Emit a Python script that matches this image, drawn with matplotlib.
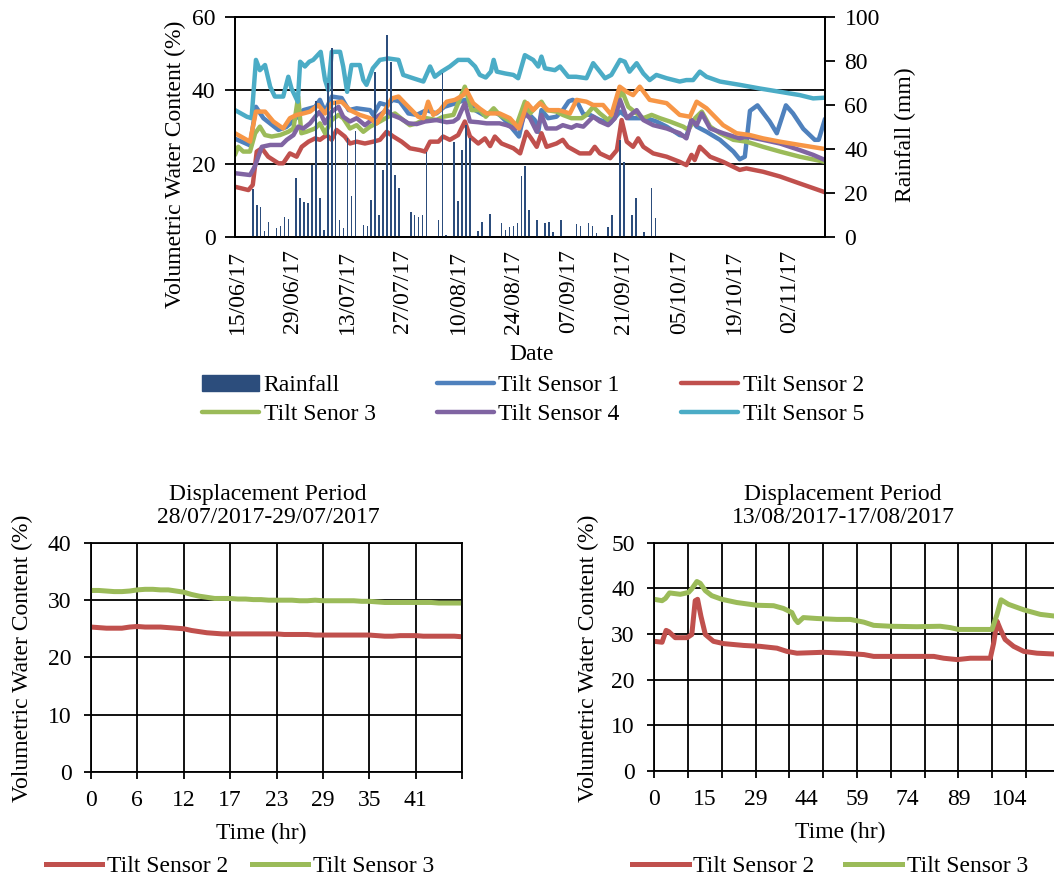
import numpy as np
import matplotlib
matplotlib.use('Agg')
import matplotlib.pyplot as plt
import matplotlib.dates as mdates
from matplotlib.lines import Line2D
from matplotlib.patches import Patch

plt.rcParams['font.family'] = ['Liberation Serif', 'DejaVu Serif']
plt.rcParams['font.size'] = 17

COL = {'rain': '#2C4D7C', 's1': '#4F81BD', 's2': '#C0504D', 's3': '#9BBB59',
       's4': '#8064A2', 's5': '#4BACC6', 's6': '#F79646'}

# ---- top chart: daily VWC per tilt sensor (day offset from 15/06/17, %) ----
s1 = [(0, 26.8), (3.8, 25.0), (5.3, 35.5), (7.2, 32.4), (11, 29.2), (13, 30.0), (15, 31.9),
      (17.3, 34.6), (20.3, 35.5), (21.5, 37.4), (22.8, 34.2), (24.5, 38.3), (27, 37.9),
      (28.8, 34.6), (30.8, 35.1), (34.2, 34.6), (35, 33.3), (36.7, 36.5), (38.4, 36.0),
      (40, 37.4), (41.7, 37.0), (43.9, 33.7), (46, 33.3), (48.5, 34.6), (51, 33.7),
      (53, 35.5), (55.9, 36.5), (58.2, 37.4), (60.8, 34.6), (62.9, 33.3), (65.5, 34.2),
      (67, 33.3), (68.7, 31.5), (70.9, 28.7), (71.9, 27.4), (73.4, 34.6), (75.9, 31.9),
      (76.8, 28.7), (77.6, 34.6), (79.3, 32.4), (81.4, 32.8), (83, 34.6), (84.5, 37.0),
      (85.5, 37.4), (86.8, 36.5), (88.2, 33.5), (89.9, 33.3), (92.4, 31.9), (95, 31.0),
      (97.5, 34.2), (99.6, 32.4), (101.7, 32.4), (104.2, 32.4), (106.7, 31.5), (109.3, 30.1),
      (112.6, 27.8), (114.3, 27.4), (115.6, 31.9), (116.9, 30.1), (119.4, 28.7), (122.8, 26.5),
      (126.2, 23.3), (127.8, 21.2), (129.1, 21.9), (130.4, 34.4), (132.3, 35.9), (135.4, 31.5),
      (137.2, 28.3), (139.5, 35.9), (141.3, 33.7), (143.9, 29.5), (146.8, 26.5), (147.8, 26.5),
      (149.4, 32.2)]
s2 = [(0, 13.7), (3.4, 12.8), (4.5, 14.2), (5.5, 23.3), (6.8, 24.2), (8.4, 21.9), (11, 20.1),
      (12.2, 20.1), (13.9, 22.8), (15.6, 21.9), (16.9, 24.6), (18.6, 26.0), (20.3, 26.9),
      (21.5, 26.5), (23.2, 27.8), (24.5, 26.5), (25.7, 29.2), (27.8, 27.4), (29.1, 25.5),
      (30.8, 26.0), (32.9, 25.5), (35, 26.0), (36.7, 26.5), (38.4, 28.7), (40.1, 27.4),
      (42.2, 26.0), (44.3, 24.2), (46.8, 23.7), (48.1, 23.3), (49.4, 26.0), (51.5, 26.0),
      (52.7, 27.4), (54.4, 26.5), (56.5, 27.8), (58.2, 31.5), (59.5, 27.4), (61.6, 25.5),
      (63.3, 26.9), (64.6, 24.8), (65.8, 27.4), (67.5, 25.5), (70.5, 24.2), (72.2, 22.8),
      (73.8, 28.7), (75, 26.9), (76.4, 24.6), (77.6, 28.3), (78.9, 24.6), (81.4, 25.5),
      (83, 26.5), (84.3, 24.6), (87.3, 22.8), (89.9, 22.8), (91.1, 24.6), (92.4, 22.8),
      (95, 21.5), (96.7, 23.7), (97.9, 31.9), (99.2, 26.0), (100.8, 24.6), (102.1, 26.9),
      (103.4, 24.6), (105.9, 22.8), (109.3, 21.9), (112.6, 20.5), (114.3, 19.6), (115.6, 22.4),
      (116.4, 21.0), (117.7, 24.6), (120.3, 21.9), (123.6, 20.5), (127.8, 18.3), (129.5, 18.7),
      (133.7, 17.8), (138, 16.5), (143, 14.6), (149.4, 12.2)]
s3 = [(0, 22.4), (0.8, 24.6), (2.1, 23.3), (3.8, 23.3), (5.1, 28.3), (6.3, 30.1), (7.6, 27.8),
      (9.3, 27.4), (11.4, 27.8), (13.5, 28.7), (14.8, 29.6), (16, 38.3), (16.8, 28.3),
      (18.1, 28.7), (20.3, 29.6), (21.5, 31.0), (22.8, 28.3), (24.5, 31.9), (26.2, 33.3),
      (27.4, 32.4), (29.1, 29.6), (30.8, 30.5), (32.5, 28.7), (34.2, 30.1), (36.7, 31.5),
      (38.8, 32.8), (40.5, 33.7), (42.6, 31.9), (44.3, 30.5), (46, 31.0), (48.5, 32.4),
      (51, 31.9), (52.7, 32.8), (55.3, 33.3), (58.2, 41.0), (59.9, 34.6), (62, 34.6),
      (63.5, 32.8), (65.5, 35.1), (67, 33.3), (69.2, 31.9), (71.3, 30.5), (73.4, 36.9),
      (74.7, 33.7), (77.6, 36.9), (78.9, 34.6), (81.4, 34.2), (83, 33.3), (85.2, 32.4),
      (87.8, 32.4), (89, 33.3), (90.7, 35.5), (92.4, 33.7), (94.5, 31.9), (96.2, 34.2),
      (97.9, 40.1), (99.6, 35.5), (101.7, 33.7), (103.4, 32.4), (105.5, 33.3), (107.6, 32.4),
      (110.1, 31.5), (113.5, 30.1), (114.8, 29.2), (116.5, 32.4), (118.2, 34.2), (120.3, 30.1),
      (122.8, 28.3), (126.2, 26.5), (129.5, 26.0), (133.7, 24.6), (138, 23.3), (143, 21.9),
      (149.4, 20.5)]
s4 = [(0, 17.4), (3.8, 16.9), (5, 19.2), (6.8, 24.6), (8.9, 25.1), (11.8, 25.1), (13.1, 26.5),
      (14.8, 27.8), (16, 30.1), (17.3, 29.6), (19, 31.0), (20.7, 33.3), (21.5, 34.2), (22.8, 31.0),
      (24.5, 34.2), (26.2, 35.5), (27.4, 32.8), (29.1, 31.5), (30.8, 32.4), (32.9, 30.5),
      (34.6, 31.9), (36.7, 33.3), (38.4, 34.6), (39.7, 33.3), (41.8, 32.4), (43.9, 31.0),
      (46, 30.8), (48.1, 31.5), (51, 31.9), (53.6, 31.3), (55.3, 31.5), (56.5, 32.4),
      (58.2, 36.5), (59.5, 31.5), (61.6, 31.3), (63.7, 31.0), (67, 31.0), (68.8, 30.5),
      (70.9, 29.6), (72.1, 29.7), (73.4, 33.7), (74.7, 32.4), (76.4, 28.7), (77.6, 33.3),
      (78.9, 29.6), (81.4, 29.6), (83, 30.5), (85.2, 29.8), (86.5, 30.5), (88.2, 30.1),
      (90.7, 32.8), (92.4, 31.5), (94.5, 30.5), (96.2, 32.4), (97.5, 37.4), (99.2, 32.4),
      (101.7, 34.6), (103.4, 31.9), (105.9, 30.5), (109.3, 29.6), (112.6, 28.3), (114.3, 26.9),
      (115.6, 31.9), (116.9, 30.5), (118.2, 33.7), (120.3, 29.6), (123.6, 28.3), (127.8, 26.9),
      (129.5, 27.4), (133.7, 26.5), (138, 25.5), (143, 23.7), (146.4, 22.4), (149.4, 21.0)]
s5 = [(0, 34.6), (3, 32.8), (4.2, 32.4), (5.3, 48.3), (6.3, 45.5), (7.6, 46.9), (8.9, 41.0),
      (10.1, 38.3), (12.2, 38.3), (13.5, 43.7), (14.3, 40.5), (15.9, 36.9), (16.5, 47.8),
      (17.7, 46.5), (18.8, 47.8), (19.8, 48.3), (21.7, 50.5), (22.8, 42.8), (23.6, 40.1),
      (24.5, 50.5), (26.6, 50.5), (27.4, 46.5), (28.4, 39.6), (29.5, 46.9), (31.6, 46.9),
      (32.5, 42.8), (33.3, 41.5), (34.9, 46.0), (36.7, 48.3), (38.8, 48.7), (41.4, 48.3),
      (42.6, 44.2), (45.1, 43.3), (47.7, 42.4), (49.4, 46.5), (50.6, 43.7), (52.3, 45.1),
      (54.4, 46.5), (56.5, 48.3), (59.1, 48.3), (60.8, 46.5), (62, 44.2), (63.5, 43.5),
      (64.8, 45.1), (65.5, 48.3), (66.3, 45.1), (68.4, 44.6), (70.5, 44.2), (71.7, 43.3),
      (73.4, 49.6), (75.5, 48.3), (76.8, 46.5), (77.6, 49.2), (78.5, 46.0), (81, 45.5),
      (82.3, 46.5), (84.4, 43.7), (86.4, 43.7), (89, 43.3), (90.7, 47.4), (92.4, 45.1),
      (93.7, 43.3), (95.3, 44.2), (97.5, 48.3), (98.7, 47.8), (99.9, 45.1), (101.7, 47.4),
      (103.4, 44.6), (105, 42.8), (106.7, 44.2), (109.3, 43.3), (112.6, 42.4), (114.3, 42.8),
      (116, 42.8), (117.7, 45.1), (119.4, 43.7), (122.8, 42.4), (127.8, 41.5), (132.9, 40.5),
      (138, 39.6), (143, 38.7), (146.4, 37.8), (149.4, 38.0)]
s6 = [(0, 28.3), (3.8, 26.0), (5.3, 34.2), (7.6, 34.2), (9.7, 31.5), (12.2, 29.6), (13.9, 32.4),
      (15.6, 33.3), (17.3, 33.7), (19, 34.2), (21.1, 36.0), (22.8, 33.7), (24.5, 36.5), (27, 36.9),
      (29.1, 34.6), (31.6, 33.3), (34.2, 32.4), (35.9, 31.0), (38, 34.6), (39.7, 37.8),
      (41.4, 38.3), (43, 36.5), (45.1, 34.2), (46.4, 32.8), (47.7, 32.4), (48.9, 36.9),
      (50.2, 33.3), (51.9, 34.6), (53.6, 36.9), (55.7, 37.4), (57.8, 38.7), (58.6, 40.1),
      (60.3, 36.5), (62, 35.0), (63.7, 33.7), (67, 33.7), (69.6, 32.4), (71.9, 29.6), (74, 36.5),
      (75.5, 34.6), (77.2, 36.5), (79.3, 34.6), (82, 34.6), (84.8, 33.7), (86.5, 37.4), (89, 36.9),
      (90.7, 36.0), (93.2, 36.0), (95.3, 33.3), (97.4, 41.0), (99.2, 39.6), (100.8, 38.7),
      (102.5, 41.0), (105, 37.4), (109.3, 36.5), (112.6, 33.3), (115.2, 32.8), (116.9, 36.9),
      (119.4, 35.1), (123.6, 30.5), (127, 28.3), (130.4, 27.8), (133.7, 26.9), (138, 26.0),
      (143, 25.1), (149.4, 24.0)]

# daily rainfall (day offset, mm)
rain = [(4, 22), (5, 14.5), (6, 13.8), (7, 2.7), (8, 7), (10, 4.2), (11, 5.2), (12, 9.2),
        (13, 8.2), (15, 27), (16, 17.9), (17, 15.8), (18, 15.3), (19, 32.7), (20, 62),
        (21, 17.9), (22, 3.2), (23, 70), (24, 86), (25, 62), (26, 7.7), (27, 4), (28, 45),
        (29, 18.6), (30, 48), (32, 5.5), (33, 5.2), (34, 16.7), (35, 75), (36, 9.9), (37, 30.4),
        (38, 91.8), (39, 79.7), (40, 28.2), (41, 22.1), (44, 11.2), (45, 10), (46, 9.2), (47, 10),
        (48, 38.8), (51, 7.7), (52, 74.4), (53, 0.9), (55, 43.3), (56, 16.4), (57, 39.5),
        (58, 51), (59, 45), (61, 2.7), (62, 7), (64, 10.5), (67, 6.3), (68, 3.3), (69, 4.5),
        (70, 4.8), (71, 6.3), (72, 27.5), (73, 32.4), (74, 12.3), (76, 7.5), (78, 6.3), (79, 6.9),
        (80, 2.1), (82, 7.5), (86, 5.8), (87, 5.2), (89, 6.3), (90, 5.2), (91, 1.7), (94, 4.5),
        (95, 9.9), (97, 44), (98, 34.3), (100, 9.9), (101, 17.9), (103, 2.1), (105, 22.1),
        (106, 8.7)]

date_labels = ['15/06/17', '29/06/17', '13/07/17', '27/07/17', '10/08/17', '24/08/17',
               '07/09/17', '21/09/17', '05/10/17', '19/10/17', '02/11/17']

# ---- bottom left: 28/07/2017-29/07/2017, one reading per step ----
p1_ts2 = [25.3, 25.2, 25.1, 25.1, 25.1, 25.3, 25.4, 25.3, 25.3, 25.3, 25.2, 25.1, 25.0, 24.7,
          24.5, 24.3, 24.2, 24.1, 24.1, 24.1, 24.1, 24.1, 24.1, 24.1, 24.1, 24.0, 24.0, 24.0,
          24.0, 23.9, 23.9, 23.9, 23.9, 23.9, 23.9, 23.9, 23.9, 23.8, 23.7, 23.7, 23.8, 23.8,
          23.8, 23.7, 23.7, 23.7, 23.7, 23.7, 23.6]
p1_ts3 = [31.7, 31.7, 31.6, 31.5, 31.5, 31.6, 31.8, 31.9, 31.9, 31.8, 31.8, 31.6, 31.4, 31.0,
          30.7, 30.5, 30.3, 30.3, 30.3, 30.2, 30.2, 30.1, 30.1, 30.0, 30.0, 30.0, 30.0, 29.9,
          29.9, 30.0, 29.9, 29.9, 29.9, 29.9, 29.9, 29.8, 29.8, 29.7, 29.6, 29.6, 29.6, 29.6,
          29.6, 29.6, 29.6, 29.5, 29.5, 29.5, 29.5]
p1_labels = ['0', '6', '12', '17', '23', '29', '35', '41', '']

# ---- bottom right: 13/08/2017-17/08/2017 (step index, %) ----
p2_ts2 = [(0, 28.4), (2.3, 28.2), (3.5, 30.8), (4.3, 30.5), (6.2, 29.2), (9.7, 29.2), (11.1, 29.9),
          (12.1, 37.3), (12.8, 37.6), (13.8, 33.9), (15.1, 29.9), (17.5, 28.4), (20.5, 27.9),
          (26.4, 27.5), (31.3, 27.3), (36.3, 26.9), (39.2, 26.2), (42.2, 25.8), (50, 26.0),
          (56, 25.8), (62, 25.5), (64.9, 25.1), (82.7, 25.1), (85.6, 24.7), (89.6, 24.4),
          (93.5, 24.7), (99.4, 24.7), (100.4, 28.0), (101.4, 32.8), (102.4, 31.0), (103.8, 28.8),
          (106.3, 27.3), (109.3, 26.2), (113.2, 25.8), (118.8, 25.6)]
p2_ts3 = [(0, 37.6), (2.3, 37.3), (3.3, 37.8), (4.5, 39.0), (7.7, 38.7), (10.1, 39.1), (11.1, 39.9),
          (12.6, 41.5), (13.6, 41.1), (15.1, 39.5), (17, 38.4), (20, 37.6), (24.4, 36.9),
          (30.3, 36.3), (35.3, 36.2), (38.2, 35.6), (40.7, 34.7), (41.7, 33.2), (42.5, 32.5),
          (44.1, 33.6), (48.1, 33.4), (54, 33.2), (58, 33.2), (62, 32.6), (64.9, 31.9),
          (69.9, 31.7), (77.7, 31.6), (84.6, 31.7), (87.6, 31.4), (90, 31.0), (99.9, 31.0),
          (101.4, 34.3), (102.6, 37.5), (104.8, 36.5), (109.3, 35.3), (114.2, 34.3), (118.8, 33.9)]
p2_labels = ['0', '15', '29', '44', '59', '74', '89', '104']

W, H = 1054, 880
fig = plt.figure(figsize=(W / 100, H / 100), dpi=100)


def box(l, t, r, b):
    return [l / W, 1 - b / H, (r - l) / W, (b - t) / H]


def style(a):
    for sp in a.spines.values():
        sp.set_color('black')
        sp.set_linewidth(1.3)
    a.tick_params(direction='out', length=5, width=1.3, colors='black')


# ---------------- top chart ----------------
t0 = mdates.date2num(np.datetime64('2017-06-15'))
ax = fig.add_axes(box(235, 17, 825, 237))
style(ax)
series = [('Tilt Sensor 1', s1, COL['s1']), ('Tilt Sensor 2', s2, COL['s2']),
          ('Tilt Senor 3', s3, COL['s3']), ('Tilt Sensor 4', s4, COL['s4']),
          ('Tilt Sensor 5', s5, COL['s5']), (None, s6, COL['s6'])]
handles = {}
for name, pts, col in series:
    d, v = zip(*pts)
    ln, = ax.plot(t0 + np.array(d), v, color=col, lw=3.2, solid_joinstyle='round',
                  solid_capstyle='round')
    if name:
        handles[name] = ln
ax.set_ylim(0, 60)
ax.set_yticks([0, 20, 40, 60])
ax.set_xlim(t0, t0 + 149.4)
ax.set_xticks(t0 + 0.5 + 14 * np.arange(len(date_labels)))
ax.set_xticklabels(date_labels, rotation=90)
ax.tick_params(axis='x', length=0, pad=9)
ax.tick_params(axis='y', length=7, pad=7)
ax.grid(axis='y', color='black', lw=1.3)
ax.set_axisbelow(True)

ax2 = ax.twinx()
style(ax2)
rd, rv = zip(*rain)
ax2.bar(t0 + np.array(rd) + 0.5, rv, width=0.4, color=COL['rain'])
ax2.set_ylim(0, 100)
ax2.set_yticks(range(0, 101, 20))
ax2.tick_params(axis='y', length=7, pad=7)

fig.text(175 / W, 1 - 164 / H, 'Volumetric Water Content (%)', rotation=90,
         ha='center', va='center')
fig.text(905 / W, 1 - 135 / H, 'Rainfall (mm)', rotation=90, ha='center', va='center')
fig.text(532 / W, 1 - 355 / H, 'Date', ha='center', va='center')

rain_h = Patch(color=COL['rain'])
order = [(rain_h, 'Rainfall'), (handles['Tilt Senor 3'], 'Tilt Senor 3'),
         (handles['Tilt Sensor 1'], 'Tilt Sensor 1'), (handles['Tilt Sensor 4'], 'Tilt Sensor 4'),
         (handles['Tilt Sensor 2'], 'Tilt Sensor 2'), (handles['Tilt Sensor 5'], 'Tilt Sensor 5')]
fig.legend([h for h, _ in order], [l for _, l in order], ncol=3, loc='center',
           bbox_to_anchor=(533 / W, 1 - 400 / H), frameon=False, handlelength=2.4,
           handletextpad=0.2, columnspacing=2.6, labelspacing=0.3, borderpad=0)

# ---------------- bottom left ----------------
bl = fig.add_axes(box(91, 543, 462, 771.7))
style(bl)
bl.plot(np.arange(len(p1_ts2)), p1_ts2, color=COL['s2'], lw=3.6, solid_capstyle='round')
bl.plot(np.arange(len(p1_ts3)), p1_ts3, color=COL['s3'], lw=3.6, solid_capstyle='round')
bl.set_xlim(0, len(p1_ts2) - 1)
bl.set_ylim(0, 40)
bl.set_yticks(range(0, 41, 10))
bl.set_xticks(np.arange(0, len(p1_ts2), 6))
bl.set_xticklabels(p1_labels)
bl.tick_params(axis='y', pad=9)
bl.tick_params(axis='x', pad=8)
bl.grid(color='black', lw=1.3)
bl.set_axisbelow(True)
fig.text(268 / W, 1 - 506 / H, 'Displacement Period\n28/07/2017-29/07/2017',
         ha='center', va='center', linespacing=1.1)
fig.text(22 / W, 1 - 658 / H, 'Volumetric Water Content (%)', rotation=90,
         ha='center', va='center')
fig.text(261 / W, 1 - 833 / H, 'Time (hr)', ha='center', va='center')
fig.legend([Line2D([], [], color=COL['s2'], lw=3.6), Line2D([], [], color=COL['s3'], lw=3.6)],
           ['Tilt Sensor 2', 'Tilt Sensor 3'], ncol=2, loc='center',
           bbox_to_anchor=(240 / W, 1 - 866 / H), frameon=False, handlelength=2.4,
           handletextpad=0.2, columnspacing=1.0, borderpad=0)

# ---------------- bottom right ----------------
step_px = 3.38
x_max = 122
br = fig.add_axes(box(654.3, 542.7, 654.3 + x_max * step_px, 771))
style(br)
for pts, col in [(p2_ts2, COL['s2']), (p2_ts3, COL['s3'])]:
    d, v = zip(*pts)
    br.plot(d, v, color=col, lw=3.6, solid_capstyle='round', solid_joinstyle='round')
br.set_xlim(0, x_max)
br.set_ylim(0, 50)
br.set_yticks(range(0, 51, 10))
br.xaxis.remove_overlapping_locs = False
br.set_xticks(np.arange(0, x_max + 1, 10))
br.set_xticklabels([])
br.set_xticks(np.arange(0, 15 * len(p2_labels), 15), minor=True)
br.set_xticklabels(p2_labels, minor=True)
br.tick_params(axis='x', which='minor', length=0, pad=13)
br.tick_params(axis='y', pad=9)
br.grid(which='major', color='black', lw=1.3)
br.set_axisbelow(True)
fig.text(843 / W, 1 - 506 / H, 'Displacement Period\n13/08/2017-17/08/2017',
         ha='center', va='center', linespacing=1.1)
fig.text(588 / W, 1 - 658 / H, 'Volumetric Water Content (%)', rotation=90,
         ha='center', va='center')
fig.text(840 / W, 1 - 832 / H, 'Time (hr)', ha='center', va='center')
fig.legend([Line2D([], [], color=COL['s2'], lw=3.6), Line2D([], [], color=COL['s3'], lw=3.6)],
           ['Tilt Sensor 2', 'Tilt Sensor 3'], ncol=2, loc='center',
           bbox_to_anchor=(830 / W, 1 - 866 / H), frameon=False, handlelength=2.4,
           handletextpad=0.2, columnspacing=1.3, borderpad=0)

fig.savefig('out.png', dpi=100)
